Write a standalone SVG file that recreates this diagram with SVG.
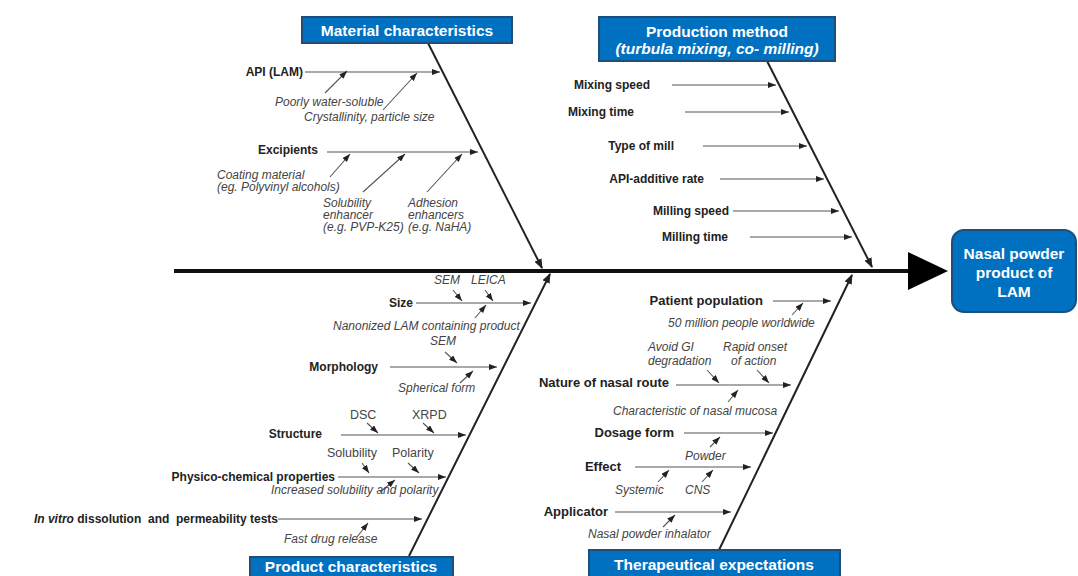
<svg xmlns="http://www.w3.org/2000/svg" width="1078" height="576" viewBox="0 0 1078 576">
<style>
.bg{fill:#ffffff}
.box{fill:#0070C0;stroke:#1F4E79;stroke-width:2}
.bt{font-family:"Liberation Sans",Arial,sans-serif;font-weight:bold;font-size:15.5px;fill:#ffffff;text-anchor:middle}
.bti{font-style:italic}
.lb{font-family:"Liberation Sans",Arial,sans-serif;font-weight:bold;font-size:12px;fill:#222222;text-anchor:end}
.lt{font-size:13px}
.it{font-family:"Liberation Sans",Arial,sans-serif;font-style:italic;font-size:12px;fill:#444444}
.rg{font-family:"Liberation Sans",Arial,sans-serif;font-size:12.5px;fill:#444444}
.spine{stroke:#111111;stroke-width:4;fill:none}
.bone{stroke:#222222;stroke-width:2;fill:none;marker-end:url(#big)}
.br{stroke:#555555;stroke-width:1.1;fill:none;marker-end:url(#sm)}
</style>
<defs>
<marker id="big" markerUnits="userSpaceOnUse" markerWidth="10" markerHeight="8" refX="9" refY="4" orient="auto">
<path d="M0,0 L10,4 L0,8 Z" fill="#222222"/>
</marker>
<marker id="sm" markerUnits="userSpaceOnUse" markerWidth="8" markerHeight="6" refX="8" refY="3" orient="auto">
<path d="M0,0 L8,3 L0,6 Z" fill="#222222"/>
</marker>
</defs>
<rect class="bg" x="0" y="0" width="1078" height="576"/>

<g id="connectors">
<line class="spine" x1="174" y1="271" x2="910" y2="271"/>
<polygon points="908,252 948,271 908,290" fill="#000000"/>
<line class="bone" x1="428" y1="43" x2="542" y2="268"/>
<line class="bone" x1="767" y1="61" x2="872" y2="267"/>
<line class="bone" x1="409" y1="556" x2="550" y2="274"/>
<line class="bone" x1="719" y1="550" x2="852" y2="275"/>

<line class="br" x1="305" y1="72" x2="440" y2="72"/>
<line class="br" x1="325" y1="93" x2="347" y2="71"/>
<line class="br" x1="383" y1="110" x2="417" y2="73"/>
<line class="br" x1="327" y1="152" x2="478" y2="152"/>
<line class="br" x1="330" y1="177" x2="350" y2="154"/>
<line class="br" x1="363" y1="192" x2="405" y2="154"/>
<line class="br" x1="427" y1="192" x2="462" y2="154"/>

<line class="br" x1="672" y1="85" x2="776" y2="85"/>
<line class="br" x1="685" y1="112" x2="789" y2="112"/>
<line class="br" x1="703" y1="146" x2="807" y2="146"/>
<line class="br" x1="720" y1="179" x2="824" y2="179"/>
<line class="br" x1="733" y1="211" x2="839" y2="211"/>
<line class="br" x1="750" y1="237" x2="852" y2="237"/>

<line class="br" x1="416" y1="303" x2="531" y2="303"/>
<line class="br" x1="453" y1="290" x2="462" y2="301"/>
<line class="br" x1="485" y1="290" x2="493" y2="301"/>
<line class="br" x1="475" y1="318" x2="486" y2="305"/>
<line class="br" x1="390" y1="367" x2="497" y2="367"/>
<line class="br" x1="445" y1="352" x2="457" y2="363"/>
<line class="br" x1="460" y1="383" x2="473" y2="371"/>
<line class="br" x1="341" y1="435" x2="466" y2="435"/>
<line class="br" x1="367" y1="423" x2="378" y2="433"/>
<line class="br" x1="423" y1="423" x2="434" y2="433"/>
<line class="br" x1="338" y1="477" x2="446" y2="477"/>
<line class="br" x1="362" y1="463" x2="369" y2="473"/>
<line class="br" x1="408" y1="463" x2="419" y2="473"/>
<line class="br" x1="380" y1="492" x2="395" y2="480"/>
<line class="br" x1="278" y1="519" x2="422" y2="519"/>
<line class="br" x1="357" y1="537" x2="368" y2="523"/>

<line class="br" x1="773" y1="301" x2="831" y2="301"/>
<line class="br" x1="792" y1="315" x2="803" y2="303"/>
<line class="br" x1="676" y1="385" x2="791" y2="385"/>
<line class="br" x1="707" y1="370" x2="719" y2="383"/>
<line class="br" x1="757" y1="370" x2="769" y2="383"/>
<line class="br" x1="728" y1="402" x2="738" y2="390"/>
<line class="br" x1="684" y1="433" x2="773" y2="433"/>
<line class="br" x1="710" y1="447" x2="720" y2="437"/>
<line class="br" x1="635" y1="467" x2="751" y2="467"/>
<line class="br" x1="658" y1="482" x2="669" y2="470"/>
<line class="br" x1="702" y1="482" x2="713" y2="470"/>
<line class="br" x1="615" y1="512" x2="731" y2="512"/>
<line class="br" x1="663" y1="527" x2="675" y2="515"/>
</g>

<g id="material-characteristics">
<rect class="box" x="302" y="17" width="210" height="26"/>
<text class="bt" x="407" y="35.5">Material characteristics</text>
<text class="lb" x="303" y="76" font-size="11.6">API (LAM)</text>
<text class="it" x="275" y="106">Poorly water-soluble</text>
<text class="it" x="304" y="121">Crystallinity, particle size</text>
<text class="lb" x="318" y="154" font-size="11.6">Excipients</text>
<text class="it" x="217" y="179">Coating material</text>
<text class="it" x="217" y="191">(eg. Polyvinyl alcohols)</text>
<text class="it" x="323" y="207">Solubility</text>
<text class="it" x="323" y="219">enhancer</text>
<text class="it" x="323" y="231">(e.g. PVP-K25)</text>
<text class="it" x="408" y="207">Adhesion</text>
<text class="it" x="408" y="219">enhancers</text>
<text class="it" x="408" y="231">(e.g. NaHA)</text>
</g>

<g id="production-method">
<rect class="box" x="599" y="17" width="236" height="44"/>
<text class="bt" x="717" y="37">Production method</text>
<text class="bt bti" x="717" y="54">(turbula mixing, co- milling)</text>
<text class="lb" x="650" y="89">Mixing speed</text>
<text class="lb" x="634" y="116">Mixing time</text>
<text class="lb" x="674" y="150">Type of mill</text>
<text class="lb" x="704" y="183">API-additive rate</text>
<text class="lb" x="729" y="215">Milling speed</text>
<text class="lb" x="728" y="241">Milling time</text>
</g>

<g id="product-characteristics">
<rect class="box" x="250" y="557" width="203" height="30"/>
<text class="bt" x="351" y="572">Product characteristics</text>
<text class="lb" x="413" y="307">Size</text>
<text class="it" x="434" y="284">SEM</text>
<text class="it" x="471" y="284">LEICA</text>
<text class="it" x="333" y="330">Nanonized LAM containing product</text>
<text class="it" x="430" y="345">SEM</text>
<text class="lb" x="378" y="371">Morphology</text>
<text class="it" x="398" y="392">Spherical form</text>
<text class="rg" x="350" y="419">DSC</text>
<text class="rg" x="412" y="419">XRPD</text>
<text class="lb" x="322" y="438">Structure</text>
<text class="rg" x="327" y="457">Solubility</text>
<text class="rg" x="392" y="457">Polarity</text>
<text class="lb" x="335" y="481">Physico-chemical properties</text>
<text class="it" x="271" y="494">Increased solubility and polarity</text>
<text class="lb" x="278" y="523" font-size="12.5" xml:space="preserve"><tspan font-style="italic">In vitro</tspan> dissolution  and  permeability tests</text>
<text class="it" x="284" y="543">Fast drug release</text>
</g>

<g id="therapeutical-expectations">
<rect class="box" x="589" y="550" width="251" height="40"/>
<text class="bt" x="714" y="570" font-size="15.8">Therapeutical expectations</text>
<text class="lb lt" x="763" y="305">Patient population</text>
<text class="it" x="668" y="327" font-size="12.3">50 million people worldwide</text>
<text class="it" x="648" y="351" font-size="12.3">Avoid GI</text>
<text class="it" x="648" y="365" font-size="12.3">degradation</text>
<text class="it" x="723" y="351" font-size="12.3">Rapid onset</text>
<text class="it" x="731" y="365" font-size="12.3">of action</text>
<text class="lb lt" x="669" y="387">Nature of nasal route</text>
<text class="it" x="613" y="415" font-size="12.3">Characteristic of nasal mucosa</text>
<text class="lb lt" x="674" y="437">Dosage form</text>
<text class="it" x="685" y="460" font-size="12.3">Powder</text>
<text class="lb lt" x="621" y="471">Effect</text>
<text class="it" x="615" y="494" font-size="12.3">Systemic</text>
<text class="it" x="685" y="494" font-size="12.3">CNS</text>
<text class="lb lt" x="608" y="516">Applicator</text>
<text class="it" x="588" y="538" font-size="12.3">Nasal powder inhalator</text>
</g>

<g id="nasal-powder-product">
<rect class="box" x="952" y="230" width="124" height="82" rx="12" ry="12"/>
<text class="bt" x="1014" y="259" font-size="16">Nasal powder</text>
<text class="bt" x="1014" y="278" font-size="16">product of</text>
<text class="bt" x="1014" y="297" font-size="16">LAM</text>
</g>
</svg>
